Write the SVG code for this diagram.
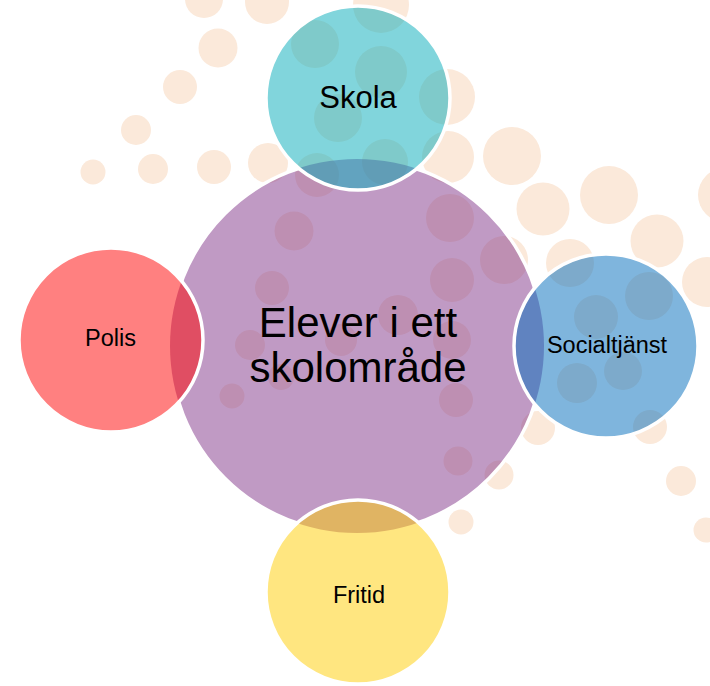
<svg xmlns="http://www.w3.org/2000/svg" width="710" height="686" viewBox="0 0 710 686">
<style>
.dot{fill:#FBE9DA}
.fill{fill-opacity:0.5}
.ring{fill:none;stroke:#FFFFFF;stroke-width:3.5}
.lbl{font-family:"Liberation Sans",Arial,sans-serif;fill:#000000;text-anchor:middle}
</style>
<defs>
<mask id="hideUnderSat" maskUnits="userSpaceOnUse" x="0" y="0" width="710" height="686">
<rect x="0" y="0" width="710" height="686" fill="#FFFFFF"/>
<circle cx="358" cy="98" r="91" fill="#000000"/>
<circle cx="111" cy="340" r="91" fill="#000000"/>
<circle cx="606" cy="346" r="91" fill="#000000"/>
<circle cx="358" cy="592" r="91" fill="#000000"/>
</mask>
</defs>
<rect x="0" y="0" width="710" height="686" fill="#FFFFFF"/>
<g id="background-dots">
<circle class="dot" cx="204" cy="-1" r="19"/>
<circle class="dot" cx="267" cy="2" r="22"/>
<circle class="dot" cx="218" cy="48" r="19.5"/>
<circle class="dot" cx="180" cy="87" r="17"/>
<circle class="dot" cx="136" cy="130" r="15"/>
<circle class="dot" cx="93" cy="172" r="12.5"/>
<circle class="dot" cx="153" cy="169" r="15"/>
<circle class="dot" cx="214" cy="167" r="17"/>
<circle class="dot" cx="268" cy="163" r="20"/>
<circle class="dot" cx="381" cy="5" r="28"/>
<circle class="dot" cx="447" cy="97" r="28"/>
<circle class="dot" cx="448" cy="157" r="26"/>
<circle class="dot" cx="512" cy="156" r="29"/>
<circle class="dot" cx="543" cy="209" r="26.5"/>
<circle class="dot" cx="609" cy="195" r="29"/>
<circle class="dot" cx="657" cy="241" r="26.5"/>
<circle class="dot" cx="725" cy="195" r="27"/>
<circle class="dot" cx="570" cy="263" r="24"/>
<circle class="dot" cx="707" cy="282" r="25"/>
<circle class="dot" cx="538" cy="428" r="17"/>
<circle class="dot" cx="650" cy="427" r="17"/>
<circle class="dot" cx="499" cy="475" r="14.5"/>
<circle class="dot" cx="461" cy="522" r="12.5"/>
<circle class="dot" cx="681" cy="481" r="15"/>
<circle class="dot" cx="706" cy="530" r="12.5"/>
<circle class="dot" cx="294" cy="231" r="19.5"/>
<circle class="dot" cx="450" cy="218" r="24"/>
<circle class="dot" cx="504" cy="260" r="24"/>
<circle class="dot" cx="452" cy="280" r="22"/>
<circle class="dot" cx="315" cy="44" r="24"/>
<circle class="dot" cx="381" cy="72" r="26"/>
<circle class="dot" cx="338" cy="118" r="24"/>
<circle class="dot" cx="385" cy="162" r="23"/>
<circle class="dot" cx="317" cy="175" r="22"/>
<circle class="dot" cx="272" cy="288" r="17"/>
<circle class="dot" cx="398" cy="315" r="20"/>
<circle class="dot" cx="452" cy="340" r="19"/>
<circle class="dot" cx="341" cy="340" r="16"/>
<circle class="dot" cx="250" cy="345" r="15"/>
<circle class="dot" cx="281" cy="377" r="13"/>
<circle class="dot" cx="232" cy="396" r="12.5"/>
<circle class="dot" cx="456" cy="400" r="17"/>
<circle class="dot" cx="458" cy="461" r="14.5"/>
<circle class="dot" cx="649" cy="296" r="24"/>
<circle class="dot" cx="596" cy="317" r="22"/>
<circle class="dot" cx="577" cy="383" r="20"/>
<circle class="dot" cx="623" cy="371" r="19"/>
</g>
<g id="connectors"/>
<g id="node-center">
<circle class="fill" cx="357" cy="346" r="187" fill="#813589"/>
<circle class="ring" cx="357" cy="346" r="187" mask="url(#hideUnderSat)"/>
<text class="lbl" x="358" y="337" font-size="42">Elever i ett</text>
<text class="lbl" x="358" y="382" font-size="42">skolområde</text>
</g>
<g id="node-skola">
<circle class="fill" cx="358" cy="98" r="92" fill="#03ABB9"/>
<circle class="ring" cx="358" cy="98" r="92"/>
<text class="lbl" x="358" y="108" font-size="31">Skola</text>
</g>
<g id="node-polis">
<circle class="fill" cx="111" cy="340" r="92" fill="#FF0101"/>
<circle class="ring" cx="111" cy="340" r="92"/>
<text class="lbl" x="110.5" y="346" font-size="23.5">Polis</text>
</g>
<g id="node-socialtjanst">
<circle class="fill" cx="606" cy="346" r="92" fill="#006BBB"/>
<circle class="ring" cx="606" cy="346" r="92"/>
<text class="lbl" x="607" y="353" font-size="23.5">Socialtjänst</text>
</g>
<g id="node-fritid">
<circle class="fill" cx="358" cy="592" r="92" fill="#FFCD01"/>
<circle class="ring" cx="358" cy="592" r="92"/>
<text class="lbl" x="359" y="603" font-size="23.5">Fritid</text>
</g>
</svg>
